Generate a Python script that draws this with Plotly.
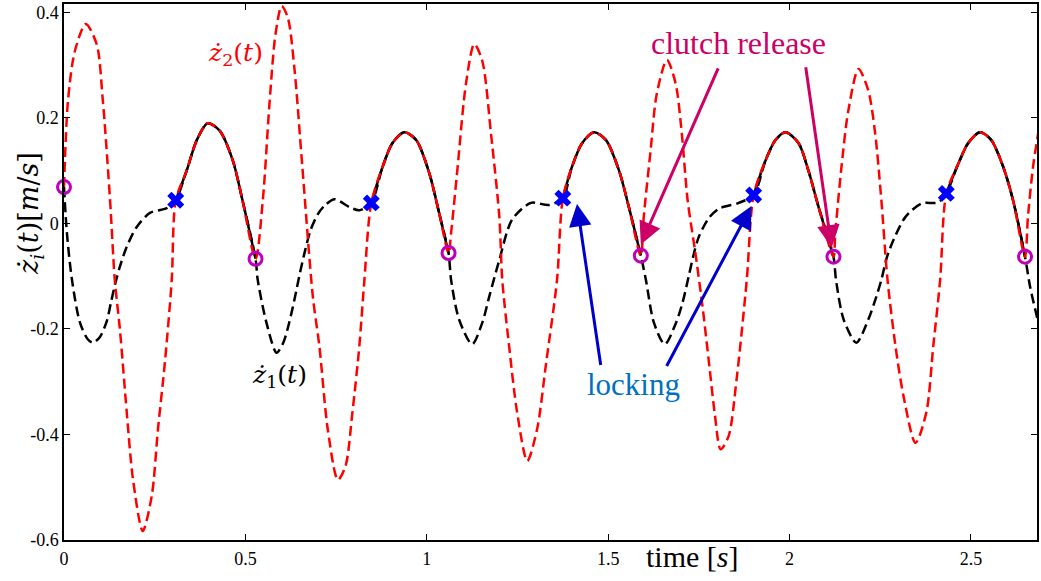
import plotly.graph_objects as go

# ---- data ----
z1_t = [0.000, 0.008, 0.022, 0.044, 0.066, 0.080, 0.099, 0.118, 0.130, 0.142, 0.154, 0.173, 0.200, 0.237, 0.283, 0.308,
        0.338, 0.366, 0.396, 0.429, 0.465, 0.492, 0.528,
        0.534, 0.558, 0.586, 0.605, 0.620, 0.635, 0.650, 0.665, 0.680, 0.700, 0.720, 0.746, 0.787, 0.814, 0.847,
        0.878, 0.905, 0.938, 0.971, 1.007, 1.034, 1.060,
        1.067, 1.089, 1.125, 1.153, 1.172, 1.200, 1.235, 1.287, 1.337, 1.375,
        1.400, 1.428, 1.461, 1.494, 1.530, 1.557, 1.590,
        1.604, 1.626, 1.656, 1.686, 1.705, 1.722, 1.737, 1.750, 1.777, 1.805, 1.860, 1.901,
        1.934, 1.961, 1.989, 2.025, 2.052, 2.080, 2.121,
        2.128, 2.149, 2.184, 2.217, 2.239, 2.253, 2.272, 2.319, 2.364, 2.410, 2.432,
        2.465, 2.492, 2.525, 2.556, 2.589, 2.616, 2.649,
        2.663, 2.685]
z1_v = [0.069, -0.018, -0.107, -0.188, -0.220, -0.226, -0.215, -0.185, -0.148, -0.112, -0.082, -0.044, -0.007, 0.020, 0.029, 0.044,
        0.100, 0.158, 0.190, 0.176, 0.120, 0.044, -0.067,
        -0.107, -0.188, -0.245, -0.225, -0.190, -0.145, -0.095, -0.050, -0.012, 0.018, 0.035, 0.046, 0.031, 0.025, 0.039,
        0.107, 0.152, 0.173, 0.158, 0.095, 0.020, -0.056,
        -0.107, -0.182, -0.229, -0.188, -0.139, -0.069, 0.007, 0.039, 0.035, 0.048,
        0.107, 0.152, 0.173, 0.158, 0.100, 0.031, -0.061,
        -0.107, -0.188, -0.229, -0.190, -0.150, -0.100, -0.055, -0.025, 0.010, 0.028, 0.039, 0.054,
        0.120, 0.158, 0.173, 0.152, 0.100, 0.031, -0.063,
        -0.107, -0.182, -0.226, -0.182, -0.139, -0.107, -0.056, 0.012, 0.038, 0.040, 0.057,
        0.113, 0.152, 0.173, 0.158, 0.107, 0.044, -0.063,
        -0.120, -0.186]

z2_t = [0.000, 0.011, 0.030, 0.060, 0.090, 0.107, 0.127, 0.140, 0.154, 0.173, 0.190, 0.217, 0.242, 0.259, 0.278, 0.297, 0.308,
        0.338, 0.366, 0.396, 0.429, 0.465, 0.492, 0.528,
        0.548, 0.567, 0.583, 0.600, 0.617, 0.635, 0.657, 0.686, 0.704, 0.727, 0.755, 0.776, 0.795, 0.814, 0.828, 0.847,
        0.878, 0.905, 0.938, 0.971, 1.007, 1.034, 1.060,
        1.067, 1.085, 1.108, 1.131, 1.153, 1.177, 1.200, 1.208, 1.227, 1.249, 1.277, 1.304, 1.329, 1.359, 1.375,
        1.400, 1.428, 1.461, 1.494, 1.530, 1.557, 1.590,
        1.598, 1.617, 1.634, 1.662, 1.686, 1.703, 1.719, 1.741, 1.761, 1.780, 1.794, 1.810, 1.832, 1.854, 1.882, 1.901,
        1.934, 1.961, 1.989, 2.025, 2.052, 2.080, 2.121,
        2.126, 2.143, 2.162, 2.190, 2.217, 2.236, 2.253, 2.270, 2.292, 2.314, 2.347, 2.377, 2.396, 2.415, 2.432,
        2.465, 2.492, 2.525, 2.556, 2.589, 2.616, 2.649,
        2.657, 2.671, 2.685]
z2_v = [0.069, 0.233, 0.327, 0.378, 0.340, 0.233, 0.044, -0.107, -0.200, -0.358, -0.484, -0.583, -0.516, -0.390, -0.264, -0.107, 0.044,
        0.100, 0.158, 0.190, 0.176, 0.120, 0.044, -0.067,
        0.044, 0.233, 0.359, 0.412, 0.390, 0.295, 0.107, -0.139, -0.233, -0.390, -0.486, -0.460, -0.358, -0.233, -0.107, 0.039,
        0.107, 0.152, 0.173, 0.158, 0.095, 0.020, -0.056,
        -0.018, 0.107, 0.265, 0.340, 0.308, 0.170, 0.012, -0.107, -0.233, -0.358, -0.450, -0.390, -0.264, -0.107, 0.048,
        0.107, 0.152, 0.173, 0.158, 0.100, 0.031, -0.061,
        0.012, 0.139, 0.246, 0.310, 0.265, 0.170, 0.044, -0.059, -0.163, -0.277, -0.362, -0.428, -0.403, -0.295, -0.107, 0.054,
        0.120, 0.158, 0.173, 0.152, 0.100, 0.031, -0.063,
        -0.018, 0.107, 0.214, 0.293, 0.252, 0.170, 0.044, -0.107, -0.233, -0.327, -0.416, -0.358, -0.233, -0.107, 0.057,
        0.113, 0.152, 0.173, 0.158, 0.107, 0.044, -0.063,
        0.012, 0.107, 0.170]

lock_t = [0.308, 0.847, 1.375, 1.901, 2.432]
lock_v = [0.044, 0.039, 0.048, 0.054, 0.057]
release_t = [0.000, 0.528, 1.060, 1.590, 2.121, 2.649]
release_v = [0.069, -0.067, -0.056, -0.061, -0.063, -0.063]

x_ticks = [0, 0.5, 1, 1.5, 2, 2.5]
x_tick_labels = ["0", "0.5", "1", "1.5", "2", "2.5"]
y_ticks = [-0.6, -0.4, -0.2, 0, 0.2, 0.4]
y_tick_labels = ["-0.6", "-0.4", "-0.2", "0", "0.2", "0.4"]

SERIF = "Liberation Serif"
MATH = "DejaVu Serif"
MAGENTA = "rgb(204,0,102)"
DASH = "10px,5px"

fig = go.Figure()

# black solid underlay where the two bodies are locked together
for lt, rt in zip(lock_t, release_t[1:]):
    seg_t = [t for t in z1_t if lt <= t <= rt]
    seg_v = [v for t, v in zip(z1_t, z1_v) if lt <= t <= rt]
    fig.add_trace(go.Scatter(x=seg_t, y=seg_v, mode="lines",
                             line=dict(color="black", width=2.5, shape="spline", smoothing=0.8),
                             showlegend=False, hoverinfo="skip"))

fig.add_trace(go.Scatter(x=z1_t, y=z1_v, mode="lines",
                         line=dict(color="black", width=2.5, dash=DASH, shape="spline", smoothing=0.8),
                         showlegend=False))
fig.add_trace(go.Scatter(x=z2_t, y=z2_v, mode="lines",
                         line=dict(color="red", width=2.5, dash=DASH, shape="spline", smoothing=0.8),
                         showlegend=False))
fig.add_trace(go.Scatter(x=release_t, y=release_v, mode="markers",
                         marker=dict(symbol="circle-open", size=13, color="rgb(190,0,190)",
                                     line=dict(width=3, color="rgb(190,0,190)")),
                         showlegend=False, cliponaxis=False))
fig.add_trace(go.Scatter(x=lock_t, y=lock_v, mode="markers",
                         marker=dict(symbol="x", size=15, color="rgb(0,0,255)", line=dict(width=0)),
                         showlegend=False))

# text labels
fig.add_annotation(x=0.473, y=0.322, text="<i>ż</i><sub>2</sub>(<i>t</i>)", showarrow=False,
                   font=dict(family=MATH, size=25, color="red"))
fig.add_annotation(x=0.594, y=-0.29, text="<i>ż</i><sub>1</sub>(<i>t</i>)", showarrow=False,
                   font=dict(family=MATH, size=25, color="black"))
fig.add_annotation(x=1.86, y=0.343, text="clutch release", showarrow=False,
                   font=dict(family=SERIF, size=32, color=MAGENTA))
fig.add_annotation(x=1.571, y=-0.306, text="locking", showarrow=False,
                   font=dict(family=SERIF, size=31, color="rgb(0,112,192)"))

# arrows
arrows = [
    (1.590, -0.040, 1.805, 0.297, MAGENTA),
    (2.116, -0.046, 2.044, 0.299, MAGENTA),
    (1.414, 0.037, 1.480, -0.271, "rgb(0,0,204)"),
    (1.895, 0.033, 1.659, -0.273, "rgb(0,0,204)"),
]
for hx, hy, tx, ty, col in arrows:
    fig.add_annotation(x=hx, y=hy, ax=tx, ay=ty, xref="x", yref="y", axref="x", ayref="y",
                       text="", showarrow=True, arrowhead=2, arrowsize=1.5, arrowwidth=3,
                       arrowcolor=col, standoff=0)

# axis titles
fig.add_annotation(x=1.733, y=-0.0316, xref="x", yref="paper", xanchor="center", yanchor="middle",
                   text="time [<i>s</i>]", showarrow=False,
                   font=dict(family=SERIF, size=30, color="black"))
fig.add_annotation(x=-0.035, y=0.61, xref="paper", yref="paper", xanchor="center", yanchor="middle",
                   text="<i>ż<sub>i</sub></i>(<i>t</i>)[<i>m</i>/<i>s</i>]", textangle=-90,
                   showarrow=False, font=dict(family=MATH, size=27, color="black"))

fig.update_layout(
    width=1041, height=581,
    margin=dict(l=64, r=2, t=2, b=41),
    plot_bgcolor="white", paper_bgcolor="white",
    xaxis=dict(range=[0, 2.682], tickvals=x_ticks, ticktext=x_tick_labels,
               ticks="inside", ticklen=6, tickcolor="black", mirror="ticks",
               showline=True, linecolor="black", linewidth=1.5, showgrid=False, zeroline=False,
               ticklabelstandoff=2,
               tickfont=dict(family=SERIF, size=18, color="black")),
    yaxis=dict(range=[-0.6, 0.416], tickvals=y_ticks, ticktext=y_tick_labels,
               ticks="inside", ticklen=6, tickcolor="black", mirror="ticks",
               showline=True, linecolor="black", linewidth=1.5, showgrid=False, zeroline=False,
               tickfont=dict(family=SERIF, size=18, color="black")),
)

fig.write_html("out.html")
